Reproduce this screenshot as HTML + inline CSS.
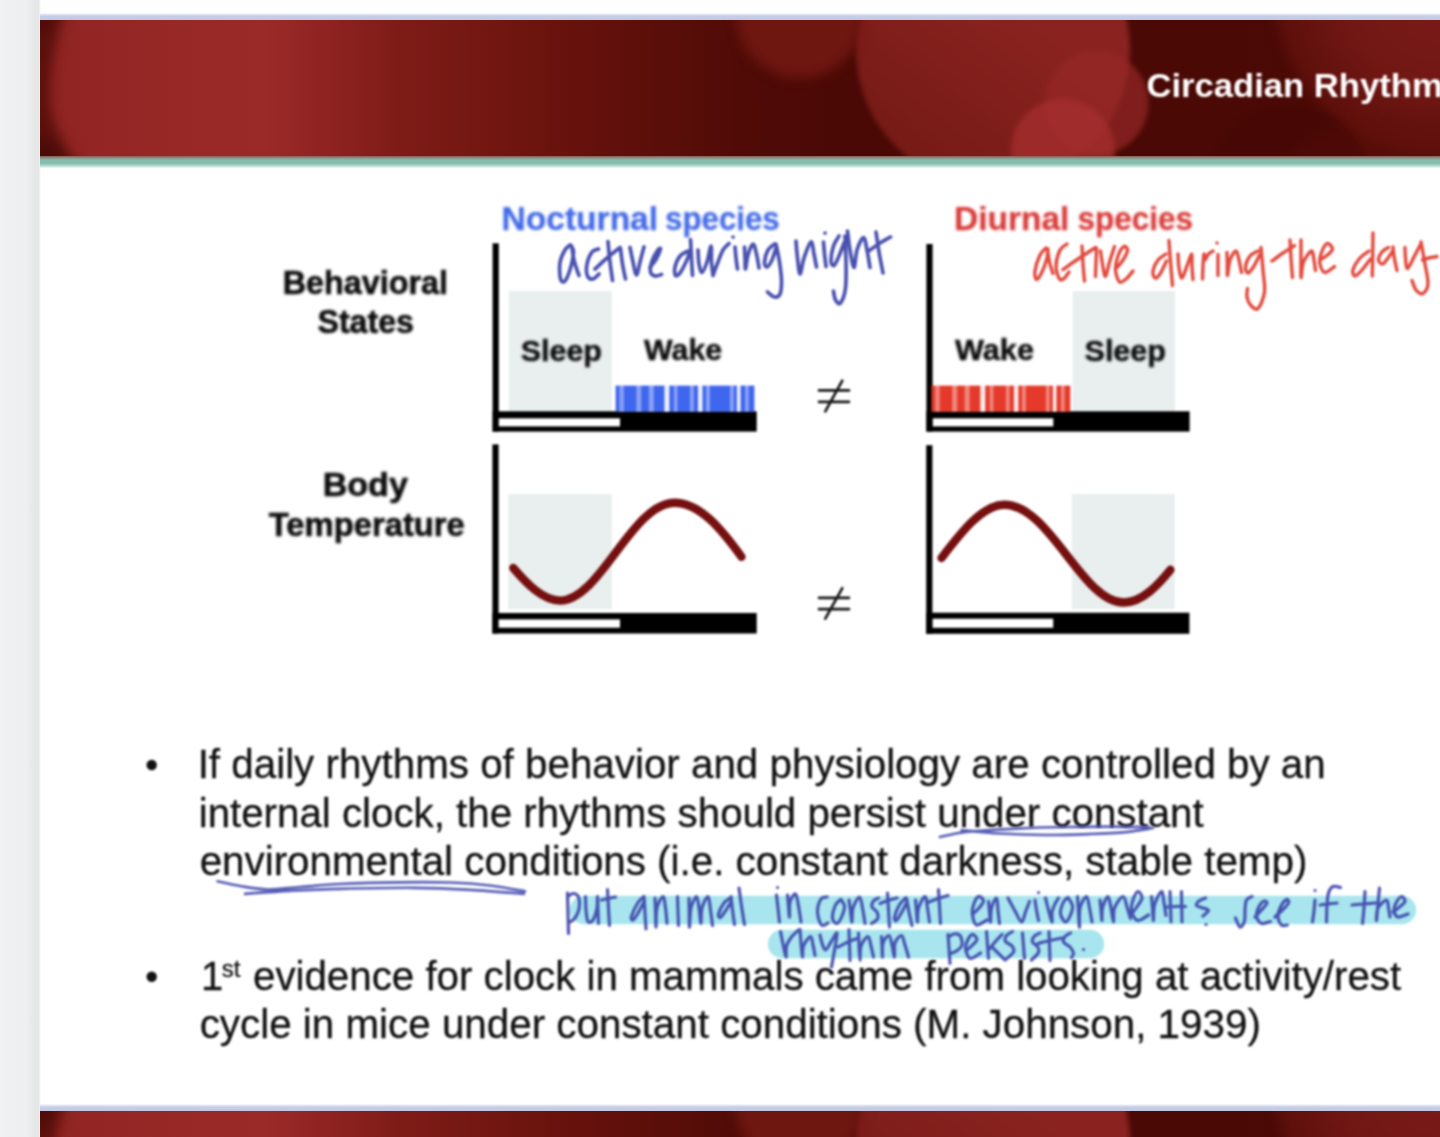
<!DOCTYPE html>
<html><head><meta charset="utf-8">
<style>
html,body{margin:0;padding:0;}
body{width:1440px;height:1137px;overflow:hidden;background:#fff;position:relative;font-family:"Liberation Sans",sans-serif;}
.abs{position:absolute;}
#strip{left:0;top:0;width:41px;height:1137px;background:linear-gradient(90deg,#f1f2f4 0%,#eff0f2 15%,#eeeff1 65%,#e9eaeb 76%,#e6e7e7 84%,#e6e7e7 94%,#ffffff 100%);}
#topline{left:40px;top:12.5px;width:1400px;height:8px;background:linear-gradient(180deg,#ffffff 0%,#dfe4f3 18%,#c6cee7 40%,#c3cae3 80%,#c0a4b0 100%);}
#hdr{left:40px;top:20px;width:1400px;height:138px;background:#6b120e;overflow:hidden;}
#teal{left:40px;top:156px;width:1400px;height:13px;background:linear-gradient(180deg,#8d5a52 0%,#88a99c 22%,#84bcae 35%,#86c0b2 58%,#b4dad1 75%,#ffffff 96%);}
#botline{left:40px;top:1103.5px;width:1400px;height:8px;background:linear-gradient(180deg,#ffffff 0%,#dfe4f3 18%,#c6cee7 40%,#c3cae3 80%,#c0a4b0 100%);}
#hdr2{left:40px;top:1111px;width:1400px;height:137px;background:#6b120e;overflow:hidden;}
svg text{font-family:"Liberation Sans",sans-serif;}
</style></head><body>
<div id="strip" class="abs"></div>
<div id="topline" class="abs"></div>
<div id="hdr" class="abs"><svg width="1400" height="137" viewBox="40 20 1400 137" style="position:absolute;left:0;top:0">
<defs>
<linearGradient id="hg" x1="0" x2="1" y1="0" y2="0">
<stop offset="0" stop-color="#8e2421"/><stop offset="0.04" stop-color="#932624"/><stop offset="0.16" stop-color="#9a2a28"/><stop offset="0.21" stop-color="#8d2220"/><stop offset="0.26" stop-color="#7d1b17"/><stop offset="0.34" stop-color="#6f150f"/><stop offset="0.40" stop-color="#63100b"/><stop offset="0.46" stop-color="#570d08"/><stop offset="0.52" stop-color="#4e0a06"/><stop offset="0.58" stop-color="#4a0905"/><stop offset="0.8" stop-color="#4a0905"/><stop offset="1" stop-color="#4d0a06"/>
</linearGradient>
<filter id="hb" color-interpolation-filters="sRGB" x="-20%" y="-20%" width="140%" height="140%"><feGaussianBlur stdDeviation="2.5"/></filter>
<filter id="hb2" color-interpolation-filters="sRGB" x="-20%" y="-20%" width="140%" height="140%"><feGaussianBlur stdDeviation="6"/></filter>
<linearGradient id="bc" gradientUnits="userSpaceOnUse" x1="1040" y1="20" x2="940" y2="157"><stop offset="0" stop-color="#8a2320"/><stop offset="1" stop-color="#781b17"/></linearGradient>
<radialGradient id="trc" gradientUnits="userSpaceOnUse" cx="1440" cy="-10" r="166"><stop offset="0" stop-color="#7e1d1a" stop-opacity="0.95"/><stop offset="0.6" stop-color="#781a17" stop-opacity="0.85"/><stop offset="1" stop-color="#6a140f" stop-opacity="0.55"/></radialGradient>
</defs>
<rect x="40" y="20" width="1400" height="137" fill="url(#hg)"/>
<g filter="url(#hb)">


<circle cx="993" cy="50" r="137" fill="url(#bc)"/>
<circle cx="1096.5" cy="103" r="52" fill="#962827" opacity="0.7"/>
<circle cx="1063" cy="151" r="52" fill="#a52f2f" opacity="0.75"/>
</g><g filter="url(#hb2)"><path d="M30 10 H66 Q48 60 50 105 Q56 140 84 170 H30 Z" fill="#4a0906" opacity="0.75"/><circle cx="38" cy="165" r="26" fill="#430805" opacity="0.7"/><circle cx="36" cy="16" r="18" fill="#430805" opacity="0.5"/><circle cx="1440" cy="-10" r="166" fill="url(#trc)"/><circle cx="800" cy="14" r="64" fill="#741913" opacity="0.85"/><ellipse cx="1400" cy="160" rx="110" ry="40" fill="#64120d" opacity="0.4"/></g><g filter="url(#hb)">
<circle cx="1290" cy="182" r="78" fill="#430704" opacity="0.45"/>
</g>
</svg>
</div>
<div id="teal" class="abs"></div>
<div id="botline" class="abs"></div>
<div id="hdr2" class="abs"><svg width="1400" height="137" viewBox="40 20 1400 137" style="position:absolute;left:0;top:0">
<defs>
<linearGradient id="hg2" x1="0" x2="1" y1="0" y2="0">
<stop offset="0" stop-color="#8e2421"/><stop offset="0.04" stop-color="#932624"/><stop offset="0.16" stop-color="#9a2a28"/><stop offset="0.21" stop-color="#8d2220"/><stop offset="0.26" stop-color="#7d1b17"/><stop offset="0.34" stop-color="#6f150f"/><stop offset="0.40" stop-color="#63100b"/><stop offset="0.46" stop-color="#570d08"/><stop offset="0.52" stop-color="#4e0a06"/><stop offset="0.58" stop-color="#4a0905"/><stop offset="0.8" stop-color="#4a0905"/><stop offset="1" stop-color="#4d0a06"/>
</linearGradient>
<filter id="hbx" color-interpolation-filters="sRGB" x="-20%" y="-20%" width="140%" height="140%"><feGaussianBlur stdDeviation="2.5"/></filter>
<filter id="hb2x" color-interpolation-filters="sRGB" x="-20%" y="-20%" width="140%" height="140%"><feGaussianBlur stdDeviation="6"/></filter>
<linearGradient id="bcx" gradientUnits="userSpaceOnUse" x1="1040" y1="20" x2="940" y2="157"><stop offset="0" stop-color="#8a2320"/><stop offset="1" stop-color="#781b17"/></linearGradient>
<radialGradient id="trcx" gradientUnits="userSpaceOnUse" cx="1440" cy="-10" r="166"><stop offset="0" stop-color="#7e1d1a" stop-opacity="0.95"/><stop offset="0.6" stop-color="#781a17" stop-opacity="0.85"/><stop offset="1" stop-color="#6a140f" stop-opacity="0.55"/></radialGradient>
</defs>
<rect x="40" y="20" width="1400" height="137" fill="url(#hg2)"/>
<g filter="url(#hb)">


<circle cx="993" cy="50" r="137" fill="url(#bc)"/>
<circle cx="1096.5" cy="103" r="52" fill="#962827" opacity="0.7"/>
<circle cx="1063" cy="151" r="52" fill="#a52f2f" opacity="0.75"/>
</g><g filter="url(#hb2)"><path d="M30 10 H66 Q48 60 50 105 Q56 140 84 170 H30 Z" fill="#4a0906" opacity="0.75"/><circle cx="38" cy="165" r="26" fill="#430805" opacity="0.7"/><circle cx="36" cy="16" r="18" fill="#430805" opacity="0.5"/><circle cx="1440" cy="-10" r="166" fill="url(#trc)"/><circle cx="800" cy="14" r="64" fill="#741913" opacity="0.85"/><ellipse cx="1400" cy="160" rx="110" ry="40" fill="#64120d" opacity="0.4"/></g><g filter="url(#hb)">
<circle cx="1290" cy="182" r="78" fill="#430704" opacity="0.45"/>
</g>
</svg>
</div>
<svg class="abs" style="left:0;top:0" width="1440" height="1137" viewBox="0 0 1440 1137">
<defs>
<filter id="tsh" color-interpolation-filters="sRGB" filterUnits="userSpaceOnUse" x="0" y="0" width="1440" height="1137"><feGaussianBlur stdDeviation="0.8"/></filter>
<filter id="fb" color-interpolation-filters="sRGB" filterUnits="userSpaceOnUse" x="0" y="0" width="1440" height="1137"><feGaussianBlur stdDeviation="1.1"/></filter>
<filter id="tb" color-interpolation-filters="sRGB" filterUnits="userSpaceOnUse" x="0" y="0" width="1440" height="1137"><feGaussianBlur stdDeviation="0.8"/></filter>
<filter id="fb2" color-interpolation-filters="sRGB" filterUnits="userSpaceOnUse" x="0" y="0" width="1440" height="1137"><feGaussianBlur stdDeviation="1.35"/></filter>
<filter id="ib" color-interpolation-filters="sRGB" filterUnits="userSpaceOnUse" x="0" y="0" width="1440" height="1137"><feGaussianBlur stdDeviation="0.85"/></filter>
</defs>
<g id="titleg">
<text id="title" x="1146.48" y="97.3" font-size="34" font-weight="bold" fill="#ffffff" textLength="296.27" lengthAdjust="spacingAndGlyphs" filter="url(#tsh)">Circadian Rhythm</text>
</g>
<g id="figure" filter="url(#fb)">
<rect x="508.8" y="291" width="103.0" height="120.7" fill="#e9eeef"/>
<rect x="492.6" y="243.3" width="6.2" height="188.3" fill="#000"/>
<rect x="492.6" y="411.3" width="264.1" height="20.3" fill="#000"/>
<rect x="498.8" y="418.3" width="121.2" height="8.1" fill="#fff"/>
<rect x="508.3" y="494" width="103.4" height="115.0" fill="#e9eeef"/>
<rect x="492.4" y="444.4" width="6.2" height="189.1" fill="#000"/>
<rect x="492.4" y="613" width="264.3" height="20.5" fill="#000"/>
<rect x="498.6" y="619.4" width="121.4" height="8.3" fill="#fff"/>
<rect x="1072.6" y="291" width="102.4" height="120.7" fill="#e9eeef"/>
<rect x="926.4" y="244" width="6.2" height="187.6" fill="#000"/>
<rect x="926.4" y="411.3" width="263.2" height="20.3" fill="#000"/>
<rect x="932.8" y="418.3" width="120.5" height="8.1" fill="#fff"/>
<rect x="1071.8" y="494" width="103.0" height="115.0" fill="#e9eeef"/>
<rect x="926.2" y="445.2" width="6.2" height="188.6" fill="#000"/>
<rect x="926.2" y="612.7" width="263.2" height="21.1" fill="#000"/>
<rect x="932.6" y="618.7" width="120.6" height="9.1" fill="#fff"/>
<rect x="615.6" y="385.6" width="138.8" height="26.1" fill="#3f66ee"/>
<rect x="664.4" y="384.6" width="5" height="27.1" fill="#fff" opacity="0.9"/>
<rect x="698.0" y="384.6" width="4.5" height="27.1" fill="#fff" opacity="0.9"/>
<rect x="736.9" y="384.6" width="3.7" height="27.1" fill="#fff" opacity="0.9"/>
<rect x="619.4" y="384.6" width="4.4" height="27.1" fill="#fff" opacity="0.38"/>
<rect x="636.3" y="384.6" width="5" height="27.1" fill="#fff" opacity="0.38"/>
<rect x="648.8" y="384.6" width="5" height="27.1" fill="#fff" opacity="0.38"/>
<rect x="673.8" y="384.6" width="3.7" height="27.1" fill="#fff" opacity="0.38"/>
<rect x="690.0" y="384.6" width="3.8" height="27.1" fill="#fff" opacity="0.38"/>
<rect x="706.0" y="384.6" width="4" height="27.1" fill="#fff" opacity="0.38"/>
<rect x="730.0" y="384.6" width="3.8" height="27.1" fill="#fff" opacity="0.38"/>
<rect x="745.0" y="384.6" width="3.8" height="27.1" fill="#fff" opacity="0.38"/>
<rect x="931.5" y="385.6" width="138.8" height="26.1" fill="#e53a2b"/>
<rect x="980.3" y="384.6" width="5" height="27.1" fill="#fff" opacity="0.9"/>
<rect x="1013.9" y="384.6" width="4.5" height="27.1" fill="#fff" opacity="0.9"/>
<rect x="1052.8" y="384.6" width="3.7" height="27.1" fill="#fff" opacity="0.9"/>
<rect x="935.3" y="384.6" width="4.4" height="27.1" fill="#fff" opacity="0.38"/>
<rect x="952.2" y="384.6" width="5" height="27.1" fill="#fff" opacity="0.38"/>
<rect x="964.7" y="384.6" width="5" height="27.1" fill="#fff" opacity="0.38"/>
<rect x="989.7" y="384.6" width="3.7" height="27.1" fill="#fff" opacity="0.38"/>
<rect x="1005.9" y="384.6" width="3.8" height="27.1" fill="#fff" opacity="0.38"/>
<rect x="1021.9" y="384.6" width="4" height="27.1" fill="#fff" opacity="0.38"/>
<rect x="1045.9" y="384.6" width="3.8" height="27.1" fill="#fff" opacity="0.38"/>
<rect x="1060.9" y="384.6" width="3.8" height="27.1" fill="#fff" opacity="0.38"/>
<path d="M513.3 568 C 527 584, 543 600.6, 560.2 600.6 C 600 600.6, 632 502.7, 674.8 502.7 C 700 502.7, 722 530, 741.5 556.9" fill="none" stroke="#761010" stroke-width="8.4" stroke-linecap="round"/>
<path d="M941.5 558 C 960 534, 982 504.7, 1004.2 504.7 C 1050 504.7, 1082 602.5, 1123.7 602.5 C 1142 602.5, 1158 585, 1170.4 569.8" fill="none" stroke="#761010" stroke-width="8.4" stroke-linecap="round"/>
<path d="M819 390.40000000000003 H849 M819 401.8 H849 M825.3 411.3 L842.3 380.70000000000005" stroke="#161616" stroke-width="2.7" stroke-linecap="round" fill="none"/>
<path d="M819 597.8 H849 M819 609.2 H849 M825.3 618.7 L842.3 588.1" stroke="#161616" stroke-width="2.7" stroke-linecap="round" fill="none"/>
</g>
<g id="figtext" filter="url(#fb2)">
<text id="noct" x="501.53" y="230.2" font-size="34" font-weight="bold" fill="#4169e8" textLength="156.60" lengthAdjust="spacingAndGlyphs" stroke="#4169e8" stroke-width="0.25">Nocturnal</text>
<text id="noct2" x="665.08" y="230.2" font-size="34" font-weight="bold" fill="#4169e8" textLength="114.65" lengthAdjust="spacingAndGlyphs" stroke="#4169e8" stroke-width="0.25">species</text>
<text id="diur" x="954.03" y="230.2" font-size="34" font-weight="bold" fill="#d83a38" textLength="115.40" lengthAdjust="spacingAndGlyphs" stroke="#d83a38" stroke-width="0.25">Diurnal</text>
<text id="diur2" x="1077.57" y="230.2" font-size="34" font-weight="bold" fill="#d83a38" textLength="115.47" lengthAdjust="spacingAndGlyphs" stroke="#d83a38" stroke-width="0.25">species</text>
<text id="beh" x="282.77" y="293.8" font-size="33.5" font-weight="bold" fill="#0c0c0c" textLength="165.26" lengthAdjust="spacingAndGlyphs" stroke="#0c0c0c" stroke-width="0.6">Behavioral</text>
<text id="sta" x="317.50" y="333.2" font-size="33.5" font-weight="bold" fill="#0c0c0c" textLength="96.41" lengthAdjust="spacingAndGlyphs" stroke="#0c0c0c" stroke-width="0.6">States</text>
<text id="body" x="322.66" y="495.8" font-size="33.5" font-weight="bold" fill="#0c0c0c" textLength="85.26" lengthAdjust="spacingAndGlyphs" stroke="#0c0c0c" stroke-width="0.6">Body</text>
<text id="temp" x="268.70" y="535.8" font-size="33.5" font-weight="bold" fill="#0c0c0c" textLength="196.12" lengthAdjust="spacingAndGlyphs" stroke="#0c0c0c" stroke-width="0.6">Temperature</text>
<text id="sl1" x="520.80" y="360.6" font-size="29.5" font-weight="bold" fill="#0c0c0c" textLength="81.05" lengthAdjust="spacingAndGlyphs" stroke="#0c0c0c" stroke-width="0.45">Sleep</text>
<text id="wk1" x="644.00" y="360.2" font-size="29.5" font-weight="bold" fill="#0c0c0c" textLength="78.12" lengthAdjust="spacingAndGlyphs" stroke="#0c0c0c" stroke-width="0.45">Wake</text>
<text id="wk2" x="955.00" y="360.2" font-size="29.5" font-weight="bold" fill="#0c0c0c" textLength="78.92" lengthAdjust="spacingAndGlyphs" stroke="#0c0c0c" stroke-width="0.45">Wake</text>
<text id="sl2" x="1084.60" y="360.6" font-size="29.5" font-weight="bold" fill="#0c0c0c" textLength="81.25" lengthAdjust="spacingAndGlyphs" stroke="#0c0c0c" stroke-width="0.45">Sleep</text>
</g>
<g id="bodytext" filter="url(#tb)">
<circle cx="151.7" cy="765" r="5.2" fill="#111"/>
<circle cx="151.7" cy="976.7" r="5.2" fill="#111"/>
<text id="l1" x="197.67" y="778.3" font-size="40" fill="#111" textLength="1128.09" lengthAdjust="spacingAndGlyphs" stroke="#111" stroke-width="0.3">If daily rhythms of behavior and physiology are controlled by an</text>
<text id="l2" x="198.69" y="826.5" font-size="40" fill="#111" textLength="1004.93" lengthAdjust="spacingAndGlyphs" stroke="#111" stroke-width="0.3">internal clock, the rhythms should persist under constant</text>
<text id="l3" x="199.69" y="874.9" font-size="40" fill="#111" textLength="1107.65" lengthAdjust="spacingAndGlyphs" stroke="#111" stroke-width="0.3">environmental conditions (i.e. constant darkness, stable temp)</text>
<text id="l4a" x="201.00" y="990" font-size="40" fill="#111" textLength="22.25" lengthAdjust="spacingAndGlyphs" stroke="#111" stroke-width="0.3">1</text>
<text id="l4s" x="221.70" y="977.3" font-size="24" fill="#111" textLength="18.67" lengthAdjust="spacingAndGlyphs" stroke="#111" stroke-width="0.3">st</text>
<text id="l4b" x="252.99" y="990" font-size="40" fill="#111" textLength="1148.12" lengthAdjust="spacingAndGlyphs" stroke="#111" stroke-width="0.3">evidence for clock in mammals came from looking at activity/rest</text>
<text id="l5" x="199.69" y="1038" font-size="40" fill="#111" textLength="1061.15" lengthAdjust="spacingAndGlyphs" stroke="#111" stroke-width="0.3">cycle in mice under constant conditions (M. Johnson, 1939)</text>
</g>
<g id="ink" filter="url(#ib)">
<g opacity="1">
<path d="M584 910 H1402" stroke="#a8e5ee" stroke-width="28.4" stroke-linecap="round" fill="none"/>
<path d="M782 944 H1090" stroke="#a8e5ee" stroke-width="28.4" stroke-linecap="round" fill="none"/>
</g>
<path d="M570.0 245.0C569.2 245.8 566.7 247.1 565.0 250.0C563.3 252.9 560.8 257.7 560.0 262.5C559.2 267.3 559.7 275.9 560.5 279.0C561.3 282.1 563.3 282.8 565.0 281.0C566.7 279.2 569.1 272.8 570.5 268.0C571.9 263.2 573.4 255.8 573.5 252.0C573.6 248.2 571.4 246.6 571.0 245.5M572.0 248.0C572.4 250.3 573.3 257.4 574.5 262.0C575.7 266.6 578.2 273.2 579.0 275.5M598.5 249.0C597.4 249.5 593.9 249.5 592.0 252.0C590.1 254.5 587.8 260.0 587.0 264.0C586.2 268.0 586.5 273.5 587.5 276.0C588.5 278.5 591.1 279.3 593.0 279.0C594.9 278.7 598.0 274.8 599.0 274.0M608.0 241.5C608.3 244.9 609.2 255.5 610.0 262.0C610.8 268.5 612.1 277.4 612.5 280.5M595.0 269.0C597.0 267.2 602.8 261.6 607.0 258.0C611.2 254.4 617.8 249.2 620.0 247.5M620.5 248.5C620.8 251.1 621.7 258.9 622.5 264.0C623.3 269.1 625.0 276.5 625.5 279.0M630.0 247.5C630.5 249.9 631.9 257.4 633.0 262.0C634.1 266.6 635.3 275.0 636.5 275.0C637.7 275.0 638.8 266.7 640.0 262.0C641.2 257.3 643.3 249.5 644.0 247.0M650.0 267.0C651.0 265.8 654.2 262.5 656.0 259.5C657.8 256.5 660.2 250.5 660.5 249.0C660.8 247.5 658.9 248.5 657.5 250.5C656.1 252.5 653.2 257.4 652.0 261.0C650.8 264.6 650.0 269.5 650.5 272.0C651.0 274.5 653.2 275.6 655.0 276.0C656.8 276.4 660.4 274.8 661.5 274.5M688.0 251.0C686.7 251.8 682.2 253.3 680.0 256.0C677.8 258.7 675.8 263.8 675.0 267.0C674.2 270.2 674.7 274.5 675.5 275.5C676.3 276.5 678.2 275.2 680.0 273.0C681.8 270.8 684.2 265.8 686.0 262.0C687.8 258.2 689.8 252.0 690.5 250.0M690.5 239.5C690.7 242.6 691.2 252.0 691.5 258.0C691.8 264.0 692.3 272.6 692.5 275.5M698.0 250.0C698.2 252.3 698.3 260.2 699.0 264.0C699.7 267.8 700.7 272.8 702.0 272.5C703.3 272.2 705.5 266.4 707.0 262.0C708.5 257.6 710.2 246.0 711.0 246.0C711.8 246.0 711.2 257.1 711.5 262.0C711.8 266.9 712.8 273.2 713.0 275.5M713.0 275.5C713.8 273.2 716.3 266.2 718.0 262.0C719.7 257.8 721.2 253.1 723.0 250.0C724.8 246.9 728.0 244.6 729.0 243.5M733.0 237.0l0.1 0M735.0 247.0C735.2 248.8 735.6 254.3 736.0 258.0C736.4 261.7 737.2 267.2 737.5 269.0M744.5 247.0C744.6 248.8 744.8 254.3 745.0 258.0C745.2 261.7 745.0 269.5 745.5 269.0C746.0 268.5 746.8 259.2 748.0 255.0C749.2 250.8 751.6 244.2 753.0 244.0C754.4 243.8 755.5 250.0 756.5 254.0C757.5 258.0 758.6 265.7 759.0 268.0M774.5 244.0C773.4 245.0 769.7 247.0 768.0 250.0C766.3 253.0 764.7 259.2 764.5 262.0C764.3 264.8 765.8 267.3 767.0 267.0C768.2 266.7 770.5 263.2 772.0 260.0C773.5 256.8 775.3 250.0 776.0 248.0M776.0 244.0C776.6 247.0 778.6 256.0 779.5 262.0C780.4 268.0 781.4 274.7 781.5 280.0C781.6 285.3 781.2 291.2 780.0 294.0C778.8 296.8 776.6 297.3 774.5 297.0C772.4 296.7 768.7 292.8 767.5 292.0M796.0 241.0C796.2 243.8 796.8 252.5 797.5 258.0C798.2 263.5 798.9 274.0 800.0 274.0C801.1 274.0 802.2 263.3 804.0 258.0C805.8 252.7 809.3 242.7 811.0 242.0C812.7 241.3 813.1 249.8 814.0 254.0C814.9 258.2 816.1 264.8 816.5 267.0M825.0 233.0l0.1 0M823.5 242.0C823.7 244.0 824.1 249.9 824.5 254.0C824.9 258.1 825.8 264.4 826.0 266.5M839.0 236.0C838.1 237.7 834.8 241.8 833.5 246.0C832.2 250.2 830.9 257.8 831.0 261.0C831.1 264.2 832.7 266.3 834.0 265.5C835.3 264.7 837.3 259.8 839.0 256.0C840.7 252.2 843.2 245.2 844.0 243.0M845.0 236.0C845.2 240.3 845.9 253.3 846.0 262.0C846.1 270.7 846.4 281.2 845.5 288.0C844.6 294.8 842.2 301.0 840.5 303.0C838.8 305.0 836.7 302.0 835.5 300.0C834.3 298.0 833.8 292.5 833.5 291.0M847.5 231.0C847.9 234.2 848.9 243.9 850.0 250.0C851.1 256.1 852.8 267.5 854.0 267.5C855.2 267.5 855.4 255.0 857.0 250.0C858.6 245.0 861.8 237.5 863.5 237.5C865.2 237.5 865.9 245.0 867.0 250.0C868.1 255.0 869.5 264.6 870.0 267.5M876.0 232.0C876.5 235.3 877.8 245.2 879.0 252.0C880.2 258.8 882.3 269.5 883.0 273.0M869.5 250.5C871.2 249.2 876.5 245.2 880.0 243.0C883.5 240.8 888.8 238.0 890.5 237.0" stroke="#3a42a8" stroke-width="3.7" stroke-linecap="round" stroke-linejoin="round" fill="none" opacity="0.92"/>
<path d="M1046.0 248.0C1045.0 249.2 1041.8 251.2 1040.0 255.0C1038.2 258.8 1035.6 266.9 1035.0 271.0C1034.4 275.1 1035.5 279.0 1036.5 279.5C1037.5 280.0 1039.3 277.2 1041.0 274.0C1042.7 270.8 1045.3 264.2 1046.5 260.0C1047.7 255.8 1047.8 250.8 1048.0 249.0M1047.5 249.0C1047.8 251.2 1048.6 257.9 1049.5 262.0C1050.4 266.1 1052.4 271.6 1053.0 273.5M1067.0 244.0C1065.8 245.0 1061.8 246.3 1060.0 250.0C1058.2 253.7 1056.1 261.2 1056.0 266.0C1055.9 270.8 1058.1 277.0 1059.5 279.0C1060.9 281.0 1062.9 279.2 1064.5 278.0C1066.1 276.8 1068.2 273.0 1069.0 272.0M1082.0 246.0C1082.2 249.0 1082.6 258.2 1083.0 264.0C1083.4 269.8 1084.2 278.2 1084.5 281.0M1063.0 269.5C1065.5 267.8 1072.6 262.7 1078.0 259.0C1083.4 255.3 1092.6 249.4 1095.5 247.5M1096.5 248.0C1096.4 250.3 1096.2 257.2 1096.0 262.0C1095.8 266.8 1095.6 274.1 1095.5 276.5M1100.5 251.0C1100.8 253.2 1101.7 259.8 1102.5 264.0C1103.3 268.2 1104.3 276.8 1105.5 276.5C1106.7 276.2 1108.0 267.0 1109.5 262.0C1111.0 257.0 1113.7 249.1 1114.5 246.5M1116.5 268.0C1117.6 266.7 1121.2 262.9 1123.0 260.0C1124.8 257.1 1127.3 252.8 1127.5 250.5C1127.7 248.2 1125.6 245.6 1124.0 246.5C1122.4 247.4 1119.4 252.1 1118.0 256.0C1116.6 259.9 1115.2 265.7 1115.5 270.0C1115.8 274.3 1117.8 280.5 1119.5 282.0C1121.2 283.5 1123.8 280.8 1126.0 279.0C1128.2 277.2 1131.8 272.3 1133.0 271.0M1166.0 254.0C1164.7 255.0 1160.2 257.2 1158.0 260.0C1155.8 262.8 1153.5 268.0 1153.0 271.0C1152.5 274.0 1153.8 277.5 1155.0 278.0C1156.2 278.5 1158.1 276.8 1160.0 274.0C1161.9 271.2 1165.4 263.2 1166.5 261.0M1169.0 240.5C1169.2 244.1 1169.9 254.5 1170.5 262.0C1171.1 269.5 1172.2 281.6 1172.5 285.5M1178.0 254.0C1178.2 256.3 1178.3 264.0 1179.0 268.0C1179.7 272.0 1180.7 278.3 1182.0 278.0C1183.3 277.7 1185.4 270.0 1187.0 266.0C1188.6 262.0 1190.7 254.0 1191.5 254.0C1192.3 254.0 1191.8 261.8 1192.0 266.0C1192.2 270.2 1192.8 277.2 1193.0 279.5M1202.5 279.0C1202.6 276.8 1202.8 270.2 1203.0 266.0C1203.2 261.8 1203.7 255.0 1204.0 254.0C1204.3 253.0 1204.2 260.0 1205.0 260.0C1205.8 260.0 1207.2 255.5 1208.5 254.0C1209.8 252.5 1212.2 251.5 1213.0 251.0M1217.0 243.0l0.1 0M1218.0 254.5C1218.0 256.2 1218.0 261.5 1218.0 265.0C1218.0 268.5 1218.0 273.8 1218.0 275.5M1227.0 252.5C1227.0 254.4 1227.2 260.2 1227.3 264.0C1227.4 267.8 1227.0 276.2 1227.5 275.5C1228.0 274.8 1228.6 264.1 1230.0 260.0C1231.4 255.9 1234.5 251.0 1236.0 251.0C1237.5 251.0 1238.1 256.4 1239.0 260.0C1239.9 263.6 1241.1 270.4 1241.5 272.5M1258.0 251.0C1256.7 251.8 1252.1 253.3 1250.0 256.0C1247.9 258.7 1245.8 264.2 1245.5 267.0C1245.2 269.8 1246.6 273.2 1248.0 273.0C1249.4 272.8 1252.1 269.0 1254.0 266.0C1255.9 263.0 1258.6 256.8 1259.5 255.0M1261.0 247.5C1261.3 251.2 1262.4 262.6 1263.0 270.0C1263.6 277.4 1265.3 285.6 1264.5 292.0C1263.7 298.4 1260.3 306.3 1258.0 308.5C1255.7 310.7 1252.3 306.9 1250.5 305.0C1248.7 303.1 1247.5 299.8 1247.0 297.0C1246.5 294.2 1247.4 289.9 1247.5 288.5M1272.0 261.0C1273.8 259.7 1279.2 255.6 1283.0 253.0C1286.8 250.4 1292.6 246.8 1294.5 245.5M1290.0 240.0C1290.2 243.0 1290.6 251.8 1291.0 258.0C1291.4 264.2 1292.2 274.2 1292.5 277.5M1301.0 240.0C1301.0 243.0 1301.0 251.8 1301.0 258.0C1301.0 264.2 1300.6 276.8 1301.0 277.5C1301.4 278.2 1301.8 266.4 1303.5 262.0C1305.2 257.6 1309.8 251.3 1311.5 251.0C1313.2 250.7 1313.3 256.8 1314.0 260.0C1314.7 263.2 1315.2 268.8 1315.5 270.5M1320.0 260.0C1321.2 259.2 1325.4 256.8 1327.5 255.0C1329.6 253.2 1332.6 250.9 1332.5 249.0C1332.4 247.1 1328.9 242.7 1327.0 243.5C1325.1 244.3 1322.2 250.6 1321.0 254.0C1319.8 257.4 1319.3 260.9 1320.0 264.0C1320.7 267.1 1322.6 272.1 1325.0 272.5C1327.4 272.9 1332.9 267.5 1334.5 266.5M1369.0 251.0C1367.5 252.2 1362.7 254.8 1360.0 258.0C1357.3 261.2 1353.8 267.0 1353.0 270.0C1352.2 273.0 1353.5 276.0 1355.0 276.0C1356.5 276.0 1359.4 272.8 1362.0 270.0C1364.6 267.2 1369.1 260.8 1370.5 259.0M1373.0 233.0C1373.0 236.5 1372.8 246.8 1372.7 254.0C1372.6 261.2 1372.4 272.3 1372.3 276.0M1388.5 247.5C1387.4 248.2 1383.7 249.9 1382.0 252.0C1380.3 254.1 1378.4 258.0 1378.5 260.0C1378.6 262.0 1380.9 264.3 1382.5 264.0C1384.1 263.7 1386.2 260.2 1388.0 258.0C1389.8 255.8 1392.2 251.8 1393.0 250.5M1393.0 247.0C1393.2 249.0 1393.8 255.1 1394.5 259.0C1395.2 262.9 1396.6 268.6 1397.0 270.5M1405.0 247.5C1405.1 249.2 1405.1 254.5 1405.5 258.0C1405.9 261.5 1406.1 268.7 1407.5 268.5C1408.9 268.3 1411.8 261.2 1414.0 257.0C1416.2 252.8 1419.8 245.8 1421.0 243.5M1421.0 242.0C1421.7 245.7 1423.8 257.0 1425.0 264.0C1426.2 271.0 1428.3 279.1 1428.0 284.0C1427.7 288.9 1425.0 292.5 1423.0 293.5C1421.0 294.5 1417.8 292.2 1416.0 290.0C1414.2 287.8 1412.7 282.1 1412.0 280.5M1422.5 260.0C1423.6 259.7 1426.6 258.6 1429.0 258.0C1431.4 257.4 1435.7 256.8 1437.0 256.5" stroke="#df3a2d" stroke-width="3.4" stroke-linecap="round" stroke-linejoin="round" fill="none" opacity="0.92"/>
<path d="M567.5 893.0C567.6 896.3 567.8 906.2 568.0 913.0C568.2 919.8 568.4 930.1 568.5 933.5M567.5 897.0C568.4 896.4 571.2 893.5 573.0 893.5C574.8 893.5 577.5 894.4 578.5 897.0C579.5 899.6 579.6 905.5 579.0 909.0C578.4 912.5 576.5 915.8 575.0 918.0C573.5 920.2 570.8 921.3 570.0 922.0M585.5 896.5C585.6 898.8 585.6 905.8 586.0 910.0C586.4 914.2 586.8 919.8 588.0 921.5C589.2 923.2 591.5 922.2 593.0 920.0C594.5 917.8 596.2 911.9 597.0 908.0C597.8 904.1 597.3 896.2 597.5 896.5C597.7 896.8 597.8 905.5 598.0 910.0C598.2 914.5 598.4 921.2 598.5 923.5M607.5 889.5C607.7 892.6 608.2 902.0 608.5 908.0C608.8 914.0 609.3 922.6 609.5 925.5M601.5 900.0C602.6 899.8 605.7 899.0 608.0 898.5C610.3 898.0 614.2 897.2 615.5 897.0M644.0 896.5C643.0 897.5 640.1 899.2 638.0 902.5C635.9 905.8 632.3 913.6 631.5 916.5C630.7 919.4 632.0 920.4 633.0 920.0C634.0 919.6 635.6 917.2 637.5 914.0C639.4 910.8 643.3 903.2 644.5 901.0M644.0 897.5C644.2 900.1 644.7 907.8 645.0 913.0C645.3 918.2 645.8 926.3 646.0 929.0M655.0 898.0C655.1 900.3 655.3 907.2 655.5 912.0C655.7 916.8 655.8 927.7 656.0 927.0C656.2 926.3 655.8 913.1 657.0 908.0C658.2 902.9 661.6 896.5 663.0 896.5C664.4 896.5 664.8 903.5 665.5 908.0C666.2 912.5 666.8 920.9 667.0 923.5M677.5 896.5C677.6 898.9 677.8 906.2 678.0 911.0C678.2 915.8 678.4 923.1 678.5 925.5M689.0 898.0C689.0 900.3 689.1 907.2 689.2 912.0C689.3 916.8 689.2 927.7 689.5 927.0C689.8 926.3 689.8 913.1 691.0 908.0C692.2 902.9 695.2 896.5 696.5 896.5C697.8 896.5 698.2 903.5 699.0 908.0C699.8 912.5 700.5 923.5 701.0 923.5C701.5 923.5 700.8 912.5 702.0 908.0C703.2 903.5 706.6 896.2 708.0 896.5C709.4 896.8 709.8 905.2 710.5 910.0C711.2 914.8 712.2 922.9 712.5 925.5M730.5 898.0C729.4 898.8 726.0 900.3 724.0 903.0C722.0 905.7 719.1 911.6 718.5 914.0C717.9 916.4 719.4 917.9 720.5 917.5C721.6 917.1 723.2 914.1 725.0 911.5C726.8 908.9 730.0 903.6 731.0 902.0M731.0 896.5C731.2 898.8 731.9 905.3 732.5 910.0C733.1 914.7 734.2 922.1 734.5 924.5M739.0 888.0C739.4 891.0 740.6 899.9 741.5 906.0C742.4 912.1 744.0 921.4 744.5 924.5M777.5 887.5l0.1 0M776.5 895.0C776.8 897.2 777.5 903.5 778.0 908.0C778.5 912.5 779.2 919.7 779.5 922.0M787.5 895.0C787.7 896.8 788.2 902.3 788.5 906.0C788.8 909.7 789.2 917.7 789.5 917.0C789.8 916.3 789.0 905.8 790.0 902.0C791.0 898.2 794.1 893.3 795.5 894.0C796.9 894.7 797.6 901.3 798.5 906.0C799.4 910.7 800.6 919.3 801.0 922.0M827.0 897.0C826.0 897.3 822.6 896.5 821.0 899.0C819.4 901.5 817.4 907.7 817.5 912.0C817.6 916.3 819.8 923.2 821.5 925.0C823.2 926.8 826.9 923.3 828.0 923.0M840.0 900.0C839.2 901.0 836.2 903.0 835.0 906.0C833.8 909.0 832.2 915.1 832.5 918.0C832.8 920.9 835.4 923.8 837.0 923.5C838.6 923.2 840.8 918.9 842.0 916.0C843.2 913.1 844.7 908.8 844.5 906.0C844.3 903.2 841.6 900.6 841.0 899.5M849.0 900.0C849.2 901.8 850.0 907.3 850.5 911.0C851.0 914.7 851.6 922.5 852.0 922.0C852.4 921.5 851.8 912.2 853.0 908.0C854.2 903.8 857.9 897.0 859.5 897.0C861.1 897.0 861.6 903.6 862.5 908.0C863.4 912.4 864.6 920.9 865.0 923.5M878.5 898.0C877.7 898.5 874.6 899.5 873.5 901.0C872.4 902.5 871.4 905.2 872.0 907.0C872.6 908.8 876.1 910.0 877.0 912.0C877.9 914.0 878.4 917.1 877.5 919.0C876.6 920.9 872.5 922.8 871.5 923.5M887.5 893.0C887.7 895.8 888.2 904.3 888.5 910.0C888.8 915.7 889.3 924.2 889.5 927.0M880.0 903.5C881.3 903.0 885.2 901.4 888.0 900.5C890.8 899.6 895.5 898.4 897.0 898.0M905.5 898.0C904.4 899.2 900.8 902.2 899.0 905.5C897.2 908.8 894.9 915.0 894.5 917.5C894.1 920.0 895.4 921.2 896.5 920.5C897.6 919.8 899.3 916.4 901.0 913.5C902.7 910.6 905.6 904.8 906.5 903.0M906.5 898.0C906.9 900.3 908.1 907.4 909.0 912.0C909.9 916.6 911.5 923.2 912.0 925.5M915.5 900.0C915.7 901.8 916.2 907.3 916.5 911.0C916.8 914.7 917.2 922.5 917.5 922.0C917.8 921.5 917.2 912.2 918.5 908.0C919.8 903.8 923.5 896.5 925.0 896.5C926.5 896.5 926.8 903.8 927.5 908.0C928.2 912.2 929.2 919.7 929.5 922.0M938.5 889.5C938.7 892.2 939.2 900.3 939.5 906.0C939.8 911.7 940.3 920.6 940.5 923.5M929.0 902.0C930.5 901.4 934.8 899.6 938.0 898.5C941.2 897.4 946.3 896.0 948.0 895.5M973.0 914.0C974.0 913.0 977.2 910.2 979.0 908.0C980.8 905.8 983.6 902.9 983.5 901.0C983.4 899.1 980.2 895.8 978.5 896.5C976.8 897.2 974.5 901.9 973.5 905.0C972.5 908.1 972.0 911.7 972.5 915.0C973.0 918.3 974.1 924.2 976.5 925.0C978.9 925.8 985.2 920.8 987.0 920.0M988.5 901.5C988.7 903.2 989.2 908.6 989.5 912.0C989.8 915.4 990.2 922.7 990.5 922.0C990.8 921.3 990.5 912.0 991.5 908.0C992.5 904.0 995.4 897.7 996.5 898.0C997.6 898.3 997.5 905.8 998.0 910.0C998.5 914.2 999.2 921.2 999.5 923.5M1008.0 898.0C1009.1 900.0 1012.2 906.0 1014.5 910.0C1016.8 914.0 1019.7 921.7 1021.5 922.0C1023.3 922.3 1024.2 915.4 1025.5 912.0C1026.8 908.6 1028.8 903.2 1029.5 901.5M1038.5 892.5l0.1 0M1035.0 900.0C1035.2 901.7 1035.9 906.6 1036.5 910.0C1037.1 913.4 1038.2 918.8 1038.5 920.5M1045.5 898.0C1046.0 900.0 1047.4 906.0 1048.5 910.0C1049.6 914.0 1051.4 921.7 1052.0 922.0C1052.6 922.3 1051.5 915.0 1052.0 912.0C1052.5 909.0 1053.9 906.3 1055.0 904.0C1056.1 901.7 1057.9 899.0 1058.5 898.0M1067.0 898.0C1066.3 898.8 1064.1 900.4 1063.0 903.0C1061.9 905.6 1060.1 910.3 1060.5 913.5C1060.9 916.7 1063.8 921.8 1065.5 922.0C1067.2 922.2 1069.3 917.7 1070.5 915.0C1071.7 912.3 1072.9 908.9 1072.5 906.0C1072.1 903.1 1068.8 898.9 1068.0 897.5M1077.5 896.5C1077.7 899.1 1078.2 906.9 1078.5 912.0C1078.8 917.1 1079.2 927.7 1079.5 927.0C1079.8 926.3 1078.8 913.1 1080.0 908.0C1081.2 902.9 1084.9 896.5 1086.5 896.5C1088.1 896.5 1088.6 903.8 1089.5 908.0C1090.4 912.2 1091.6 919.7 1092.0 922.0M1100.0 900.0C1100.2 901.7 1100.7 906.6 1101.0 910.0C1101.3 913.4 1101.8 920.8 1102.0 920.5C1102.2 920.2 1101.5 912.0 1102.5 908.0C1103.5 904.0 1106.6 896.5 1108.0 896.5C1109.4 896.5 1110.1 903.8 1111.0 908.0C1111.9 912.2 1112.9 922.0 1113.5 922.0C1114.1 922.0 1112.9 912.2 1114.5 908.0C1116.1 903.8 1120.9 896.7 1123.0 896.5C1125.1 896.3 1125.8 903.3 1127.0 907.0C1128.2 910.7 1129.9 916.6 1130.5 918.5M1131.5 914.0C1132.5 912.7 1135.8 908.7 1137.5 906.0C1139.2 903.3 1141.9 900.4 1142.0 898.0C1142.1 895.6 1139.5 891.2 1138.0 891.5C1136.5 891.8 1134.1 896.8 1133.0 900.0C1131.9 903.2 1130.8 907.6 1131.5 911.0C1132.2 914.4 1134.7 919.8 1137.5 920.5C1140.3 921.2 1146.7 915.9 1148.5 915.0M1151.5 896.5C1151.7 898.4 1152.2 904.0 1152.5 908.0C1152.8 912.0 1153.2 921.0 1153.5 920.5C1153.8 920.0 1153.2 909.8 1154.5 905.0C1155.8 900.2 1159.9 891.8 1161.5 891.5C1163.1 891.2 1163.2 899.0 1164.0 903.0C1164.8 907.0 1165.7 913.4 1166.0 915.5M1170.0 891.5C1170.1 893.9 1170.3 900.9 1170.5 906.0C1170.7 911.1 1170.9 919.3 1171.0 922.0M1181.5 891.5C1181.5 893.9 1181.6 900.9 1181.7 906.0C1181.8 911.1 1182.0 919.3 1182.0 922.0M1166.5 907.0C1168.1 906.9 1172.8 906.6 1176.0 906.5C1179.2 906.4 1183.9 906.5 1185.5 906.5M1205.5 898.0C1204.4 898.5 1200.5 899.8 1199.0 901.0C1197.5 902.2 1195.8 904.3 1196.5 905.5C1197.2 906.7 1201.0 907.2 1203.0 908.0C1205.0 908.8 1208.5 909.2 1208.5 910.5C1208.5 911.8 1203.9 915.1 1203.0 916.0M1206.0 924.5l0.1 0M1252.0 896.5C1251.1 897.1 1247.7 897.8 1246.5 900.0C1245.3 902.2 1245.3 906.5 1245.0 910.0C1244.7 913.5 1245.3 918.2 1244.5 921.0C1243.7 923.8 1241.5 927.5 1240.0 927.0C1238.5 926.5 1236.2 919.5 1235.5 918.0M1255.0 917.0C1256.1 915.8 1259.5 912.3 1261.5 910.0C1263.5 907.7 1266.8 904.4 1267.0 903.0C1267.2 901.6 1264.6 900.3 1263.0 901.5C1261.4 902.7 1258.5 907.2 1257.5 910.0C1256.5 912.8 1256.2 915.8 1257.0 918.0C1257.8 920.2 1259.8 922.9 1262.0 923.5C1264.2 924.1 1269.1 921.8 1270.5 921.5M1275.0 917.0C1276.2 915.8 1280.2 912.3 1282.5 910.0C1284.8 907.7 1287.8 904.8 1288.5 903.0C1289.2 901.2 1287.8 898.8 1286.5 899.5C1285.2 900.2 1281.9 904.2 1280.5 907.0C1279.1 909.8 1277.8 913.0 1278.0 916.0C1278.2 919.0 1279.9 923.5 1281.5 925.0C1283.1 926.5 1286.5 925.0 1287.5 925.0M1315.0 890.5l0.1 0M1315.0 900.0C1314.8 901.8 1314.4 907.3 1314.0 911.0C1313.6 914.7 1312.8 920.2 1312.5 922.0M1340.5 887.5C1339.2 887.3 1335.0 885.6 1333.0 886.5C1331.0 887.4 1329.5 889.9 1328.5 893.0C1327.5 896.1 1327.3 900.2 1327.0 905.0C1326.7 909.8 1326.6 919.2 1326.5 922.0M1320.0 905.0C1321.3 904.8 1325.2 904.3 1328.0 904.0C1330.8 903.7 1335.5 903.2 1337.0 903.0M1365.0 891.5C1364.8 894.2 1364.4 902.7 1364.0 908.0C1363.6 913.3 1362.8 920.9 1362.5 923.5M1352.0 905.0C1353.8 904.8 1359.1 904.3 1363.0 904.0C1366.9 903.7 1373.4 903.2 1375.5 903.0M1379.5 888.0C1379.2 890.7 1378.5 898.6 1378.0 904.0C1377.5 909.4 1376.5 919.8 1376.5 920.5C1376.5 921.2 1376.3 911.4 1378.0 908.0C1379.7 904.6 1384.8 900.0 1386.5 900.0C1388.2 900.0 1387.9 905.2 1388.5 908.0C1389.1 910.8 1389.8 915.5 1390.0 917.0M1393.0 912.0C1394.1 911.2 1397.5 908.8 1399.5 907.0C1401.5 905.2 1404.7 903.2 1405.0 901.5C1405.3 899.8 1403.0 896.2 1401.5 896.5C1400.0 896.8 1397.2 900.7 1396.0 903.0C1394.8 905.3 1393.7 908.2 1394.0 910.5C1394.3 912.8 1395.7 916.4 1398.0 917.0C1400.3 917.6 1406.3 914.5 1408.0 914.0M780.5 931.5C780.9 933.6 782.1 939.8 783.0 944.0C783.9 948.2 785.4 956.7 786.0 957.0C786.6 957.3 785.6 949.3 786.5 946.0C787.4 942.7 789.5 939.7 791.5 937.0C793.5 934.3 797.3 931.2 798.5 930.0M800.0 929.5C800.2 931.8 800.6 938.4 801.0 943.0C801.4 947.6 802.1 956.5 802.5 957.0C802.9 957.5 802.2 949.4 803.5 946.0C804.8 942.6 808.9 936.7 810.5 936.5C812.1 936.3 812.2 941.8 813.0 945.0C813.8 948.2 814.7 953.8 815.0 955.5M820.0 935.0C820.3 936.3 821.1 940.5 822.0 943.0C822.9 945.5 824.0 950.2 825.5 950.0C827.0 949.8 829.1 944.8 831.0 942.0C832.9 939.2 836.4 931.7 837.0 933.0C837.6 934.3 835.4 944.3 834.5 950.0C833.6 955.7 832.0 964.2 831.5 967.0M849.0 929.5C849.1 932.1 849.3 939.8 849.5 945.0C849.7 950.2 849.9 957.9 850.0 960.5M838.0 947.0C839.7 946.2 844.6 943.5 848.0 942.0C851.4 940.5 856.8 938.7 858.5 938.0M858.5 933.0C858.6 935.2 858.8 941.4 859.0 946.0C859.2 950.6 859.7 960.5 860.0 960.5C860.3 960.5 859.7 950.0 861.0 946.0C862.3 942.0 866.3 936.5 868.0 936.5C869.7 936.5 870.1 942.6 871.0 946.0C871.9 949.4 873.1 955.2 873.5 957.0M881.5 936.5C881.6 938.1 881.8 942.6 882.0 946.0C882.2 949.4 882.3 957.5 882.5 957.0C882.7 956.5 881.9 946.6 883.0 943.0C884.1 939.4 887.5 935.2 889.0 935.5C890.5 935.8 891.1 941.4 892.0 945.0C892.9 948.6 894.0 957.3 894.5 957.0C895.0 956.7 893.8 946.6 895.0 943.0C896.2 939.4 899.8 935.2 901.5 935.5C903.2 935.8 903.8 941.4 905.0 945.0C906.2 948.6 907.9 955.0 908.5 957.0M948.0 934.5C948.2 936.8 948.7 943.2 949.0 948.0C949.3 952.8 949.8 960.9 950.0 963.5M948.5 937.0C949.4 936.5 952.1 934.2 954.0 934.0C955.9 933.8 958.7 933.7 960.0 935.5C961.3 937.3 962.6 942.4 962.0 945.0C961.4 947.6 958.5 949.6 956.5 951.0C954.5 952.4 951.1 953.1 950.0 953.5M966.5 950.5C967.5 949.6 970.8 946.8 972.5 945.0C974.2 943.2 977.1 941.2 977.0 939.5C976.9 937.8 973.8 933.9 972.0 934.5C970.2 935.1 967.5 940.2 966.5 943.0C965.5 945.8 965.3 948.4 966.0 951.0C966.7 953.6 968.1 958.2 970.5 958.5C972.9 958.8 978.8 953.9 980.5 953.0M986.5 931.5C986.7 933.8 987.2 940.5 987.5 945.0C987.8 949.5 988.3 956.2 988.5 958.5M988.5 950.0C989.6 948.7 992.8 944.6 995.0 942.0C997.2 939.4 1000.8 935.8 1002.0 934.5M991.5 946.5C992.4 947.4 995.0 950.0 997.0 952.0C999.0 954.0 1002.4 957.4 1003.5 958.5M1012.5 931.5C1011.5 932.2 1007.7 933.8 1006.5 935.5C1005.3 937.2 1004.6 939.8 1005.5 941.5C1006.4 943.2 1010.7 944.2 1012.0 946.0C1013.3 947.8 1014.7 949.7 1013.5 952.0C1012.3 954.3 1006.4 958.7 1005.0 960.0M1022.5 933.0C1022.7 935.2 1023.2 941.8 1023.5 946.0C1023.8 950.2 1024.3 956.4 1024.5 958.5M1040.0 933.0C1039.0 933.6 1035.2 935.0 1034.0 936.5C1032.8 938.0 1031.9 940.3 1032.5 942.0C1033.1 943.7 1036.5 944.8 1037.5 946.5C1038.5 948.2 1039.5 950.2 1038.5 952.5C1037.5 954.8 1032.7 958.8 1031.5 960.0M1049.0 931.5C1049.1 933.9 1049.3 941.2 1049.5 946.0C1049.7 950.8 1049.9 958.1 1050.0 960.5M1038.0 943.5C1040.0 943.0 1046.0 941.4 1050.0 940.5C1054.0 939.6 1060.0 938.4 1062.0 938.0M1070.5 933.0C1069.6 933.6 1066.2 935.0 1065.0 936.5C1063.8 938.0 1062.7 940.2 1063.5 942.0C1064.3 943.8 1068.3 945.2 1070.0 947.0C1071.7 948.8 1073.2 951.2 1073.5 953.0C1073.8 954.8 1071.8 956.8 1071.5 957.5M1083.5 949.5l0.1 0" stroke="#3a42a8" stroke-width="3.2" stroke-linecap="round" stroke-linejoin="round" fill="none" opacity="0.9"/>
<path d="M939.8 837.0C942.5 836.4 950.6 834.5 956.0 833.5C961.4 832.5 961.3 832.2 972.0 831.3C982.7 830.4 1004.3 829.0 1020.0 828.3C1035.7 827.6 1051.0 827.3 1066.0 827.0C1081.0 826.7 1096.2 826.6 1110.0 826.6C1123.8 826.6 1142.5 826.9 1149.0 827.0M961.7 830.2C968.1 830.8 986.1 832.7 1000.0 833.5C1013.9 834.3 1030.0 834.9 1045.0 835.0C1060.0 835.1 1076.2 834.5 1090.0 834.0C1103.8 833.5 1117.5 832.8 1128.0 831.8C1138.5 830.8 1148.8 828.6 1153.0 828.0M217.5 881.3C221.2 882.1 231.6 884.6 240.0 886.0C248.4 887.4 258.0 889.3 268.0 889.5C278.0 889.7 288.0 887.9 300.0 887.0C312.0 886.1 323.3 884.8 340.0 884.0C356.7 883.2 381.7 882.5 400.0 882.3C418.3 882.0 435.0 882.0 450.0 882.5C465.0 883.0 477.5 884.0 490.0 885.5C502.5 887.0 519.2 890.3 525.0 891.3M245.0 893.8C252.5 893.3 274.2 891.6 290.0 890.8C305.8 890.0 319.2 889.3 340.0 888.8C360.8 888.3 393.3 887.6 415.0 887.8C436.7 888.0 451.9 888.8 470.0 889.8C488.1 890.8 514.8 893.1 523.8 893.8" stroke="#4048ac" stroke-width="2.7" stroke-linecap="round" stroke-linejoin="round" fill="none" opacity="0.88"/>
</g>
</svg>
</body></html>
